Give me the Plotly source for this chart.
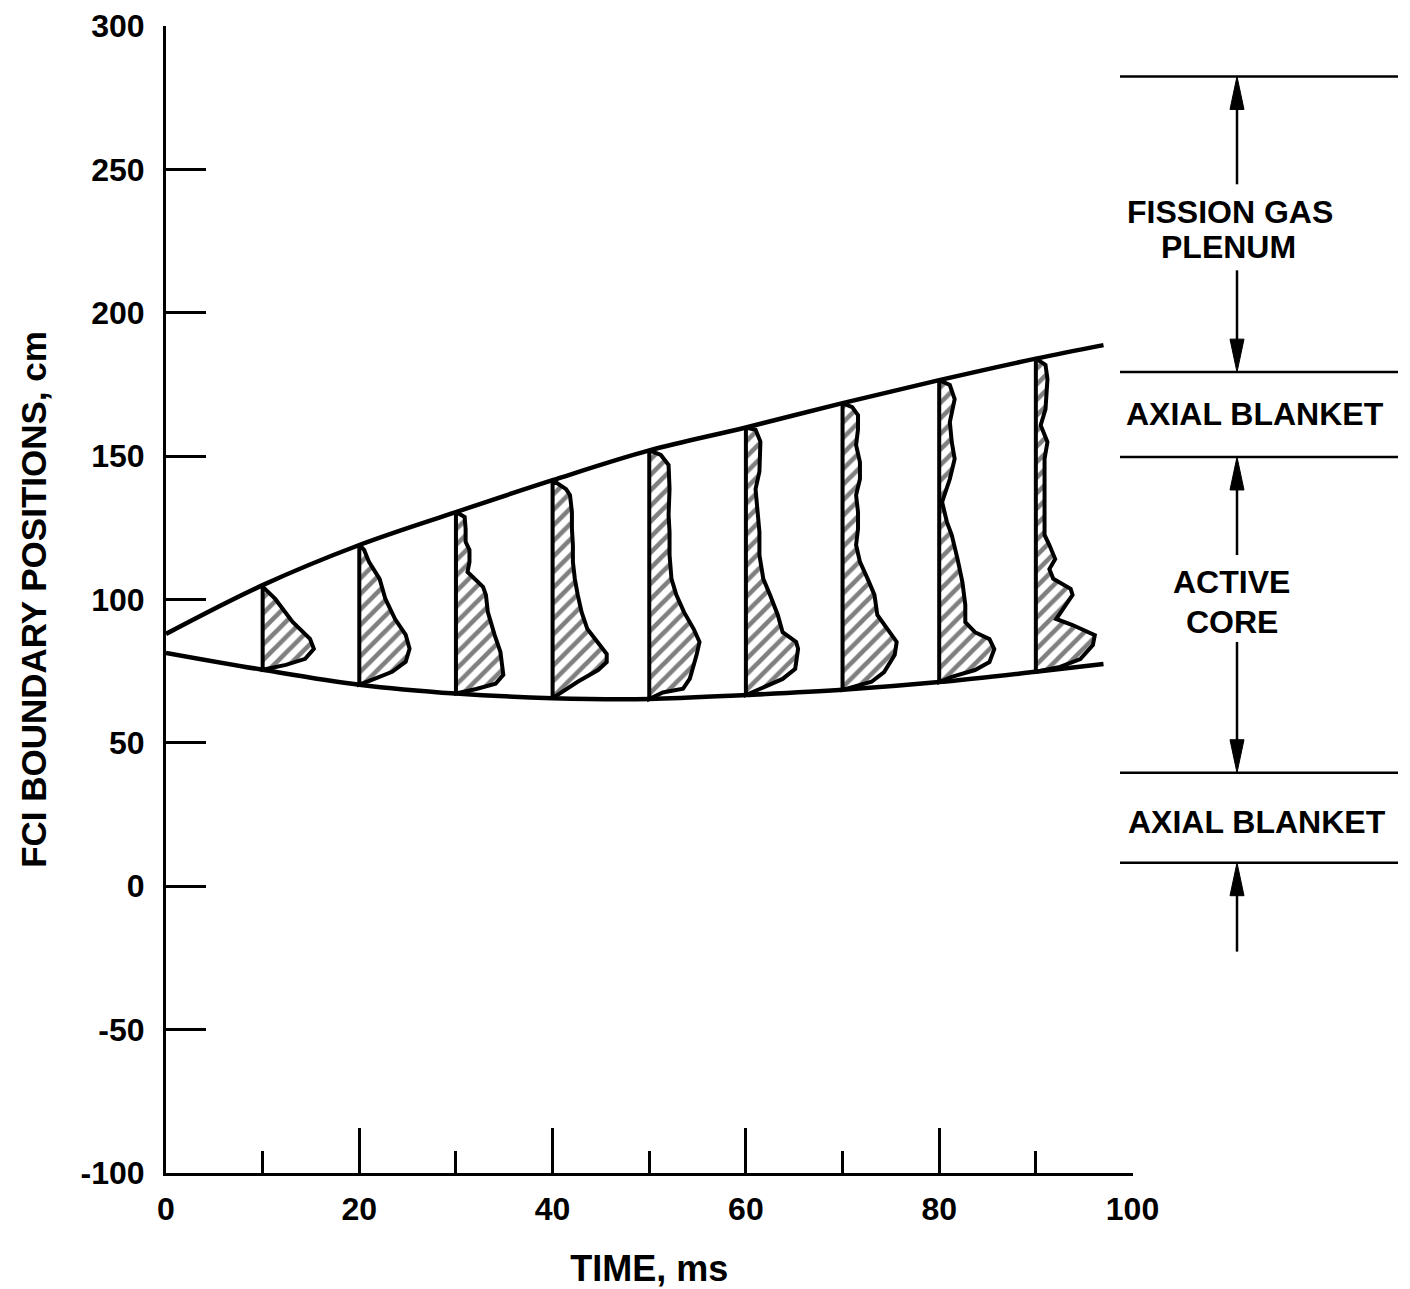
import plotly.graph_objects as go

# ---------------- data ----------------
time_bound = [0, 10, 20, 30, 40, 50, 60, 70, 80, 90, 97]
upper_bound = [88.0, 105.0, 119.0, 130.5, 141.6, 152.0, 160.0, 168.5, 176.5, 184.0, 188.7]
lower_bound = [81.4, 75.5, 70.3, 67.2, 65.6, 65.3, 66.7, 68.5, 71.2, 74.8, 77.5]

profile_times = [10, 20, 30, 40, 50, 60, 70, 80, 90]

p10_y = [104.5, 100.2, 92.2, 86.3, 82.8, 79.3, 77.2, 75.5]
p10_w = [0, 1.3, 3.1, 4.9, 5.3, 4.4, 2.4, 0]

p20_y = [119.0, 117.3, 113.1, 107.2, 100.2, 93.2, 87.7, 82.8, 78.3, 74.8, 72.0, 70.3]
p20_w = [0, 0.5, 1.0, 2.1, 2.7, 3.7, 4.8, 5.2, 4.8, 3.4, 1.3, 0]

p30_y = [130.5, 128.8, 124.6, 120.1, 117.3, 113.1, 109.6, 107.2, 104.4, 101.6, 95.6,
         87.7, 81.7, 73.7, 70.6, 68.8, 67.2]
p30_w = [0, 0.9, 1.0, 1.0, 1.4, 1.4, 1.2, 2.0, 2.8, 3.1, 3.3, 4.0, 4.6, 4.9, 4.1, 2.1, 0]

p40_y = [141.6, 138.5, 136.4, 130.5, 124.6, 119.0, 113.1, 107.2, 101.6, 95.6, 89.7,
         85.2, 81.0, 78.2, 75.4, 71.3, 67.8, 65.6]
p40_w = [0, 1.4, 1.8, 2.0, 2.0, 2.1, 2.1, 2.3, 2.6, 3.0, 3.6, 4.7, 5.6, 5.6, 4.7, 2.6, 0.9, 0]

p50_y = [152.0, 150.4, 146.9, 138.5, 129.5, 123.5, 115.5, 107.2, 101.6, 95.6, 89.7,
         85.2, 80.7, 72.4, 68.9, 67.6, 65.3]
p50_w = [0, 1.2, 2.0, 2.1, 2.0, 2.1, 2.1, 2.3, 2.8, 3.6, 4.6, 5.2, 4.9, 4.2, 3.5, 1.4, 0]

p60_y = [160.0, 159.2, 155.1, 144.6, 138.5, 131.5, 123.5, 115.5, 107.2, 101.6, 94.6,
         88.6, 85.2, 82.8, 75.8, 72.3, 69.5, 66.7]
p60_w = [0, 1.0, 1.5, 1.4, 1.0, 1.2, 1.4, 1.4, 1.8, 2.5, 3.3, 3.8, 5.2, 5.4, 5.1, 3.8, 1.8, 0]

p70_y = [168.5, 167.1, 164.3, 159.4, 153.8, 147.9, 142.0, 136.4, 130.5, 124.6, 119.0,
         113.1, 107.2, 101.6, 94.6, 89.7, 85.2, 80.7, 74.7, 71.3, 69.5, 68.5]
p70_w = [0, 1.0, 1.6, 1.6, 1.4, 1.8, 1.8, 1.4, 1.6, 1.6, 1.4, 1.8, 2.6, 3.3, 3.6, 4.7,
         5.6, 5.4, 4.3, 3.0, 0.9, 0]

p80_y = [176.5, 174.8, 169.9, 161.9, 154.9, 149.0, 142.0, 137.5, 134.0, 127.0, 122.5,
         114.1, 106.1, 98.1, 92.1, 88.6, 86.2, 82.7, 78.2, 75.4, 73.0, 71.2]
p80_w = [0, 1.1, 1.6, 1.1, 1.3, 1.6, 1.1, 0.6, 0.3, 0.8, 1.3, 1.9, 2.4, 2.7, 2.7, 3.7,
         5.2, 5.7, 5.2, 3.7, 1.3, 0]

p90_y = [184.0, 181.8, 176.9, 166.4, 160.8, 154.9, 149.0, 141.0, 134.0, 127.0, 122.5,
         119.0, 114.1, 110.6, 107.2, 103.7, 101.6, 98.1, 93.2, 91.1, 87.6, 84.1, 79.2,
         76.5, 74.8]
p90_w = [0, 1.0, 1.2, 1.0, 0.5, 1.2, 0.9, 0.9, 1.0, 0.9, 0.9, 1.4, 2.0, 1.4, 1.8, 3.6,
         3.8, 3.1, 2.1, 3.8, 6.1, 5.9, 4.6, 2.5, 0]

profiles_y = [p10_y, p20_y, p30_y, p40_y, p50_y, p60_y, p70_y, p80_y, p90_y]
profiles_w = [p10_w, p20_w, p30_w, p40_w, p50_w, p60_w, p70_w, p80_w, p90_w]

y_ticks = [300, 250, 200, 150, 100, 50, 0, -50, -100]
x_ticks = [0, 20, 40, 60, 80, 100]

# region boundaries (cm) shown on the right-hand schematic
region_bounds = [282.4, 179.3, 149.7, 39.6, 8.2]
region_texts = ["FISSION GAS", "PLENUM", "AXIAL BLANKET", "ACTIVE", "CORE", "AXIAL BLANKET"]
region_text_y = [235.0, 222.8, 164.7, 106.1, 92.2, 22.5]
region_text_x = [120, 118, 145, 121, 122, 147]
arrow_tails = [244.8, 214.8, 115.5, 85.2, -22.8]

# ---------------- figure ----------------
FONT = "Liberation Sans, Arial, DejaVu Sans, sans-serif"
# page body has an 8px margin, so the figure is drawn 8px smaller and shifted
W, H = 1402, 1281
ML, MR, MT, MB = 158, 0, 18, 116
PW = W - ML - MR

fig = go.Figure()

for t, ys, ws in zip(profile_times, profiles_y, profiles_w):
    xs = [t + w for w in ws] + [t]
    yy = list(ys) + [ys[0]]
    fig.add_trace(go.Scatter(
        x=xs, y=yy, mode="lines", fill="toself", fillcolor="white",
        fillpattern=dict(shape="/", size=11, solidity=0.42, fgcolor="black", bgcolor="white"),
        line=dict(color="black", width=4), hoverinfo="skip", showlegend=False))

for yb in (upper_bound, lower_bound):
    fig.add_trace(go.Scatter(
        x=time_bound, y=yb, mode="lines", line=dict(color="black", width=4.5, shape="spline"),
        hoverinfo="skip", showlegend=False))

# right-hand schematic on its own x axis (x2, pixel-like units)
for yb in region_bounds:
    fig.add_trace(go.Scatter(x=[10, 288], y=[yb, yb], xaxis="x2", yaxis="y", mode="lines",
                             line=dict(color="black", width=2.5), hoverinfo="skip",
                             showlegend=False))

AX = 127          # arrow x position (x2 units)
HEAD_L = 11.5     # head length (cm)
HEAD_HW = 7       # head half-width (x2 units)
for ytail, ytip in zip(arrow_tails, region_bounds):
    s = 1 if ytip > ytail else -1
    base = ytip - s * HEAD_L
    fig.add_trace(go.Scatter(x=[AX, AX], y=[ytail, base + s * 2], xaxis="x2", yaxis="y",
                             mode="lines", line=dict(color="black", width=2.5),
                             hoverinfo="skip", showlegend=False))
    fig.add_trace(go.Scatter(x=[AX - HEAD_HW, AX, AX + HEAD_HW, AX - HEAD_HW],
                             y=[base, ytip, base, base], xaxis="x2", yaxis="y",
                             mode="lines", fill="toself", fillcolor="black",
                             line=dict(color="black", width=1), hoverinfo="skip",
                             showlegend=False))

annotations = []
for txt, tx, ty in zip(region_texts, region_text_x, region_text_y):
    annotations.append(dict(text=txt, x=tx, y=ty, xref="x2", yref="y", showarrow=False,
                            xanchor="center", yanchor="middle",
                            font=dict(family=FONT, size=32, color="black", weight="bold")))

axis_font = dict(family=FONT, size=32, color="black", weight="bold")

fig.update_layout(
    width=W, height=H,
    margin=dict(l=ML, r=MR, t=MT, b=MB, autoexpand=False),
    paper_bgcolor="white", plot_bgcolor="white",
    showlegend=False,
    xaxis=dict(
        domain=[0, 966.5 / PW], range=[0, 100], showline=True, linecolor="black",
        linewidth=3, ticks="inside", ticklen=45, tickwidth=3, tickcolor="black",
        tickvals=x_ticks, ticktext=[str(v) for v in x_ticks],
        minor=dict(ticks="inside", ticklen=22, tickwidth=3, tickcolor="black", dtick=10,
                   tick0=0, showgrid=False),
        showgrid=False, zeroline=False, tickfont=axis_font, ticklabelstandoff=6,
        ticklabeloverflow="allow",
        title=dict(text="TIME, ms", font=dict(family=FONT, size=36, color="black",
                                             weight="bold"), standoff=32),
        fixedrange=True,
    ),
    yaxis=dict(
        range=[-100, 300], showline=True, linecolor="black", linewidth=3,
        ticks="inside", ticklen=40, tickwidth=2.5, tickcolor="black",
        tickvals=y_ticks, ticktext=[str(v) for v in y_ticks],
        showgrid=False, zeroline=False, tickfont=axis_font, ticklabelstandoff=12,
        ticklabeloverflow="allow",
        title=dict(text="FCI BOUNDARY POSITIONS, cm",
                   font=dict(family=FONT, size=35, color="black", weight="bold"),
                   standoff=24),
        fixedrange=True,
    ),
    xaxis2=dict(domain=[(1110 - 166) / PW, 1.0], range=[0, 300], anchor="y",
                visible=False, showgrid=False, zeroline=False, fixedrange=True),
    annotations=annotations,
)

fig.write_html("out.html")
